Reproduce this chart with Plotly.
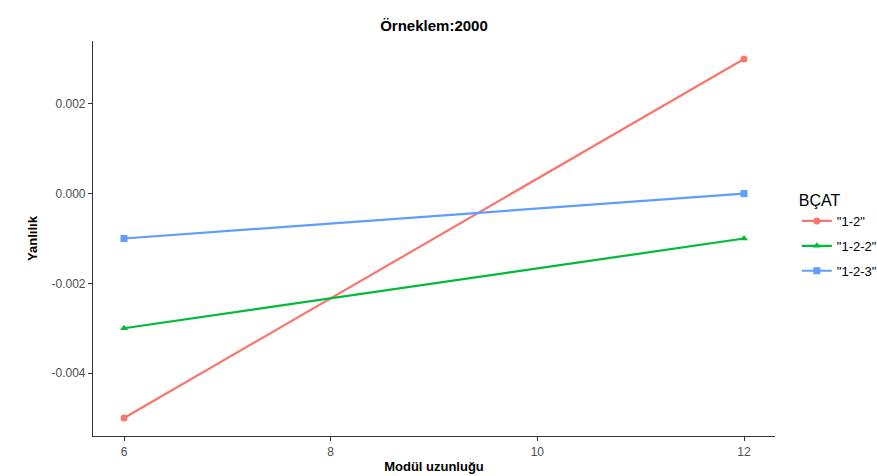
import plotly.graph_objects as go

x_vals = [6, 12]
series_names = ['"1-2"', '"1-2-2"', '"1-2-3"']
y_12 = [-0.005, 0.003]
y_122 = [-0.003, -0.001]
y_123 = [-0.001, 0.0]
colors = ["#F8766D", "#00BA38", "#619CFF"]
symbols = ["circle", "triangle-up", "square"]

x_ticks = [6, 8, 10, 12]
y_ticks = [-0.004, -0.002, 0.000, 0.002]
y_ticklabels = ["-0.004", "-0.002", "0.000", "0.002"]

fig = go.Figure()
for i, (name, ys, c, s) in enumerate(zip(series_names, [y_12, y_122, y_123], colors, symbols)):
    fig.add_trace(go.Scatter(
        x=x_vals, y=ys, name=name, mode="lines+markers", legendgroup=f"g{i}",
        line=dict(color=c, width=2.2),
        marker=dict(color=c, symbol=s, size=7),
    ))

font_family = "Liberation Sans, Arial, sans-serif"
fig.update_layout(
    width=877, height=476,
    margin=dict(l=93, r=102, t=41, b=40, autoexpand=False),
    plot_bgcolor="white", paper_bgcolor="white",
    font=dict(family=font_family, size=12, color="#4D4D4D"),
    title=dict(text="<b>Örneklem:2000</b>", x=0.5, xanchor="center",
               xref="paper", y=0.945, yanchor="middle",
               font=dict(size=15, color="black", family=font_family)),
    xaxis=dict(range=[5.7, 12.3], tickvals=x_ticks, showgrid=False, zeroline=False,
               automargin=False,
               showline=True, linecolor="#333333", linewidth=1.2,
               ticks="outside", ticklen=4, tickcolor="#333333",
               tickfont=dict(size=12, color="#4D4D4D"),
               title=dict(text="<b>Modül uzunluğu</b>", standoff=4,
                          font=dict(size=13, color="black"))),
    yaxis=dict(range=[-0.0054, 0.0034], tickvals=y_ticks, ticktext=y_ticklabels,
               showgrid=False, zeroline=False, automargin=False,
               showline=True, linecolor="#333333", linewidth=1.2,
               ticks="outside", ticklen=4, tickcolor="#333333",
               tickfont=dict(size=12, color="#4D4D4D"),
               title=dict(text="<b>Yanlılık</b>", standoff=10,
                          font=dict(size=13, color="black"))),
    legend=dict(x=1.032, xanchor="left", y=0.635, yanchor="top",
                title=dict(text="BÇAT", font=dict(size=16, color="black")),
                font=dict(size=13, color="black"),
                tracegroupgap=5, itemwidth=30),
)

fig.write_html("out.html", config={"displayModeBar": False},
               post_script="document.body.style.margin='0';document.body.style.overflow='hidden';")
